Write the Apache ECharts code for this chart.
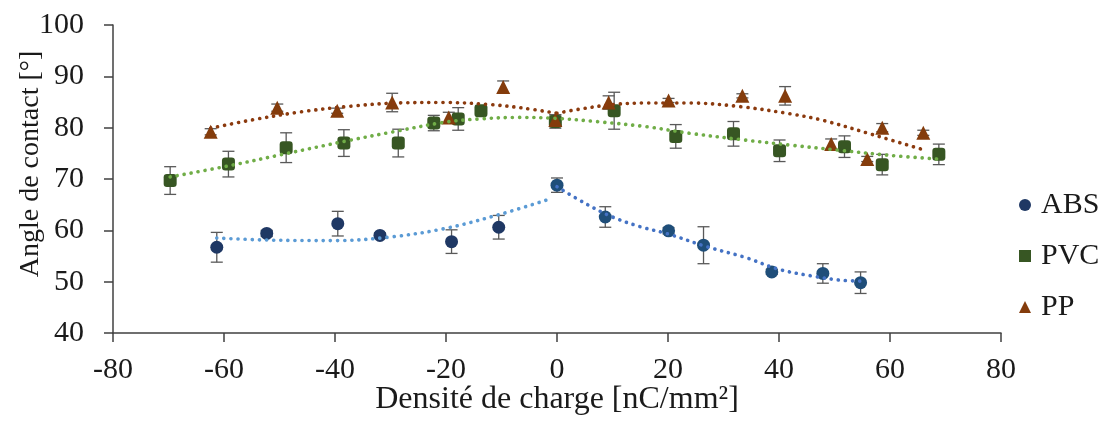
<!DOCTYPE html>
<html>
<head>
<meta charset="utf-8">
<script src="https://cdn.jsdelivr.net/npm/echarts@6/dist/echarts.min.js"></script>
<style>
html,body{margin:0;padding:0;background:#fff;}
#c{width:1106px;height:430px;}
</style>
</head>
<body>
<div id="c"></div>
<script>
// ---- data ----
const xTicks = [-80, -60, -40, -20, 0, 20, 40, 60, 80];
const yTicks = [40, 50, 60, 70, 80, 90, 100];

const absNegX = [-61.3, -52.3, -39.5, -31.9, -19.0, -10.5];
const absNegY = [56.7, 59.4, 61.3, 59.0, 57.8, 60.6];
const absNegErr = [2.9, 0.6, 2.4, 0.5, 2.3, 2.3];
const absPosX = [0, 8.7, 20.1, 26.4, 38.7, 47.9, 54.7];
const absPosY = [68.8, 62.6, 59.9, 57.1, 51.9, 51.6, 49.8];
const absPosErr = [1.4, 2.0, 0.6, 3.6, 0.5, 1.9, 2.1];

const pvcX = [-69.7, -59.2, -48.8, -38.4, -28.6, -22.2, -17.8, -13.7, -0.3, 10.3, 21.4, 31.8, 40.1, 51.8, 58.6, 68.8];
const pvcY = [69.7, 72.9, 76.1, 77.0, 77.0, 80.9, 81.7, 83.3, 81.2, 83.3, 78.3, 78.8, 75.5, 76.3, 72.8, 74.8];
const pvcErr = [2.7, 2.5, 2.9, 2.6, 2.7, 1.5, 2.2, 0.6, 1.3, 3.6, 2.3, 2.4, 2.1, 2.1, 2.0, 2.0];

const ppX = [-62.4, -50.4, -39.6, -29.7, -19.5, -9.7, -0.3, 9.3, 20.1, 33.4, 41.1, 49.4, 55.9, 58.6, 66.0];
const ppY = [79.2, 83.9, 83.3, 84.9, 82.0, 87.9, 81.5, 84.9, 85.3, 86.2, 86.2, 76.8, 73.9, 80.0, 79.0];
const ppErr = [0.6, 0.7, 0.5, 1.8, 1.0, 1.2, 1.0, 1.3, 0.4, 0.4, 1.8, 1.0, 0.5, 0.8, 0.5];

// trendlines
const absTrendNegX = [-61.3, -52, -40, -30, -20, -10, -1];
const absTrendNegY = [58.5, 58.1, 58.0, 58.7, 60.4, 63.2, 66.2];
const absTrendPosX = [0, 5, 10, 15, 20, 27, 34, 40, 46, 51, 55];
const absTrendPosY = [68.5, 65.3, 62.6, 60.7, 59.3, 56.8, 54.7, 52.4, 51.1, 50.3, 50.1];
const pvcTrendX = [-69.7, -59, -49, -38, -29, -20, -14, -7, 0, 7, 16, 24, 33, 42, 51, 60, 68.5];
const pvcTrendY = [70.4, 72.6, 74.9, 77.4, 79.3, 81.1, 81.7, 82.0, 81.8, 81.2, 80.2, 78.9, 77.7, 76.6, 75.6, 74.6, 73.9];
const ppTrendNegX = [-62.4, -55, -46, -37, -29, -20, -12, -6, 0];
const ppTrendNegY = [79.9, 81.5, 83.1, 84.2, 84.8, 84.9, 84.5, 83.8, 82.8];
const ppTrendPosX = [0, 4, 10, 16, 24, 33, 42, 48, 57, 66];
const ppTrendPosY = [82.8, 83.6, 84.5, 84.8, 84.8, 84.1, 82.7, 81.4, 78.6, 75.7];

// ---- helpers ----
const FONT = "'Liberation Serif', 'Times New Roman', serif";
const TXT = '#1a1a1a';
const zip2 = (xs, ys) => xs.map((x, i) => [x, ys[i]]);
const zip3 = (xs, ys, es) => xs.map((x, i) => [x, ys[i], es[i]]);

function errRender(params, api) {
  const x = api.value(0), y = api.value(1), e = api.value(2);
  const t = api.coord([x, y + e]);
  const b = api.coord([x, y - e]);
  const hw = 6;
  const st = { stroke: '#595959', lineWidth: 1.3, fill: null };
  return {
    type: 'group',
    children: [
      { type: 'line', shape: { x1: t[0], y1: t[1], x2: b[0], y2: b[1] }, style: st },
      { type: 'line', shape: { x1: t[0] - hw, y1: t[1], x2: t[0] + hw, y2: t[1] }, style: st },
      { type: 'line', shape: { x1: b[0] - hw, y1: b[1], x2: b[0] + hw, y2: b[1] }, style: st }
    ]
  };
}
function errSeries(id, xs, ys, es) {
  return { id: id, type: 'custom', renderItem: errRender, data: zip3(xs, ys, es),
           encode: { x: 0, y: 1 }, z: 1, silent: true, clip: false };
}
function trend(id, xs, ys, color) {
  return { id: id, type: 'line', data: zip2(xs, ys), smooth: 0.35, showSymbol: false, symbol: 'none',
           lineStyle: { color: color, width: 3.6, type: [0.1, 7], cap: 'round' }, z: 4, silent: true };
}
function scatter(name, xs, ys, symbol, size, color) {
  return { name: name, type: 'scatter', data: zip2(xs, ys), symbol: symbol, symbolSize: size,
           itemStyle: { color: color, opacity: 1 }, z: 3 };
}

const chart = echarts.init(document.getElementById('c'), null, { renderer: 'canvas' });
chart.setOption({
  animation: false,
  backgroundColor: '#fff',
  textStyle: { fontFamily: FONT, color: TXT },
  grid: { left: 113, right: 105, top: 25, bottom: 97, containLabel: false, outerBoundsMode: 'none' },
  legend: {
    orient: 'vertical', left: 1014, top: 185, itemGap: 21, itemWidth: 12, itemHeight: 12,
    data: [{ name: 'ABS', icon: 'circle' }, { name: 'PVC', icon: 'rect' }, { name: 'PP', icon: 'triangle' }],
    textStyle: { fontFamily: FONT, fontSize: 30, color: TXT, padding: [0, 0, 0, 5] }
  },
  xAxis: {
    type: 'value', min: xTicks[0], max: xTicks[xTicks.length - 1], interval: 20,
    name: 'Densité de charge [nC/mm²]', nameLocation: 'middle', nameGap: 51, nameMoveOverlap: false,
    nameTextStyle: { fontFamily: FONT, fontSize: 32, color: TXT },
    axisLine: { show: true, onZero: false, lineStyle: { color: '#404040', width: 1.5 } },
    axisTick: { show: true, inside: false, length: 9, lineStyle: { color: '#404040', width: 1.5 } },
    axisLabel: { fontFamily: FONT, fontSize: 30, color: TXT, margin: 22 },
    splitLine: { show: false }
  },
  yAxis: {
    type: 'value', min: yTicks[0], max: yTicks[yTicks.length - 1], interval: 10,
    name: 'Angle de contact [°]', nameLocation: 'middle', nameGap: 68, nameRotate: 90, nameMoveOverlap: false,
    nameTextStyle: { fontFamily: FONT, fontSize: 28, color: TXT, padding: [0, 0, 0, 30] },
    axisLine: { show: true, onZero: false, lineStyle: { color: '#404040', width: 1.5 } },
    axisTick: { show: true, inside: false, length: 9, lineStyle: { color: '#404040', width: 1.5 } },
    axisLabel: { fontFamily: FONT, fontSize: 30, color: TXT, margin: 29 },
    splitLine: { show: false }
  },
  series: [
    errSeries('eAbsN', absNegX, absNegY, absNegErr),
    errSeries('eAbsP', absPosX, absPosY, absPosErr),
    errSeries('ePvc', pvcX, pvcY, pvcErr),
    errSeries('ePp', ppX, ppY, ppErr),
    scatter('ABS', absNegX, absNegY, 'circle', 13, '#1F3864'),
    scatter('ABS', absPosX, absPosY, 'circle', 13, '#1F4E79'),
    scatter('PVC', pvcX, pvcY, 'roundRect', 13, '#375623'),
    scatter('PP', ppX, ppY, 'triangle', 14, '#843C0C'),
    trend('tAbsN', absTrendNegX, absTrendNegY, '#5B9BD5'),
    trend('tAbsP', absTrendPosX, absTrendPosY, '#4472C4'),
    trend('tPvc', pvcTrendX, pvcTrendY, '#70AD47'),
    trend('tPpN', ppTrendNegX, ppTrendNegY, '#8B3A0E'),
    trend('tPpP', ppTrendPosX, ppTrendPosY, '#8B3A0E')
  ]
});
</script>
</body>
</html>
